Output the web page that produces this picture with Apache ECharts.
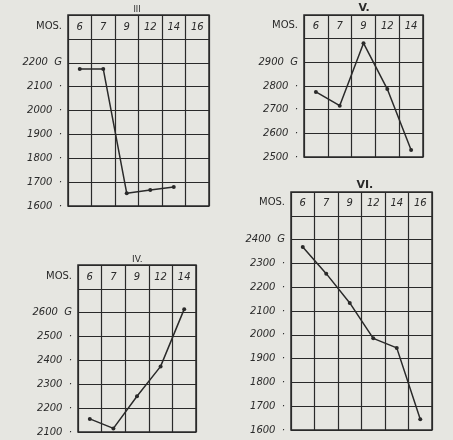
<!DOCTYPE html>
<html><head><meta charset="utf-8">
<script src="https://cdn.jsdelivr.net/npm/echarts@6/dist/echarts.min.js"></script>
<style>html,body{margin:0;padding:0;background:#e6e6e1}#c{width:453px;height:440px}</style>
</head><body><div id="c"></div>
<script>
const monthsIII = ['6','7','9','12','14','16'];
const valuesIII = [2174, 2174, 1653, 1667, 1680, null];
const monthsV = ['6','7','9','12','14'];
const valuesV = [2775, 2717, 2981, 2787, 2530];
const monthsIV = ['6','7','9','12','14'];
const valuesIV = [2155, 2115, 2250, 2375, 2615];
const monthsVI = ['6','7','9','12','14','16'];
const valuesVI = [2369, 2257, 2134, 1985, 1945, 1645];

const ink = '#2a2a2a';
const font = 'DejaVu Sans';
const panels = [
  {title:'III', months:monthsIII, values:valuesIII, min:1600, top:2200, max:2400, box:[68,15,209,206], tsize:8, bold:false},
  {title:'V.', months:monthsV, values:valuesV, min:2500, top:2900, max:3100, box:[304,15,423,157], tsize:11, bold:true},
  {title:'IV.', months:monthsIV, values:valuesIV, min:2100, top:2600, max:2800, box:[78,265,196,432], tsize:9, bold:false},
  {title:'VI.', months:monthsVI, values:valuesVI, min:1600, top:2400, max:2600, box:[291,192,432,430], tsize:11, bold:true}
];
const grid=[], xAxis=[], yAxis=[], series=[], graphic=[];
panels.forEach((p,i)=>{
  const [l,t,r,b]=p.box;
  const rowH=(b-t)/((p.max-p.min)/100);
  grid.push({left:l, top:t, width:r-l, height:b-t, show:true, borderColor:ink, borderWidth:1.5});
  xAxis.push({type:'category', gridIndex:i, data:p.months, position:'top', boundaryGap:true,
    axisLine:{show:false}, axisTick:{show:false},
    axisLabel:{inside:true, margin:rowH/2, verticalAlign:'middle', color:ink, fontStyle:'italic', fontFamily:font, fontSize:10},
    splitLine:{show:true, interval:0, lineStyle:{color:ink, width:1.2}}});
  yAxis.push({type:'value', gridIndex:i, min:p.min, max:p.max, interval:100,
    axisLine:{show:false}, axisTick:{show:false},
    splitLine:{show:true, lineStyle:{color:ink, width:1.2}},
    axisLabel:{color:ink, fontStyle:'italic', fontFamily:font, fontSize:10, margin:6,
      formatter:v=> v>p.top ? '' : (v===p.top ? v+'  G' : v+'  ·')}});
  series.push({type:'line', xAxisIndex:i, yAxisIndex:i, data:p.values, connectNulls:false,
    symbol:'circle', symbolSize:4, itemStyle:{color:ink}, lineStyle:{color:ink, width:1.5}, silent:true, animation:false});
  graphic.push({type:'text', left:l-32, top:t+rowH/2-6, style:{text:'MOS.', fill:ink, font:'10px '+font}});
  graphic.push({type:'text', left:(l+r)/2-5, top:t-p.tsize-1, style:{text:p.title, fill:ink, font:(p.bold?'bold ':'')+p.tsize+'px '+font}});
});
const chart=echarts.init(document.getElementById('c'));
chart.setOption({backgroundColor:'#e6e6e1', animation:false, grid, xAxis, yAxis, series, graphic});
</script></body></html>
